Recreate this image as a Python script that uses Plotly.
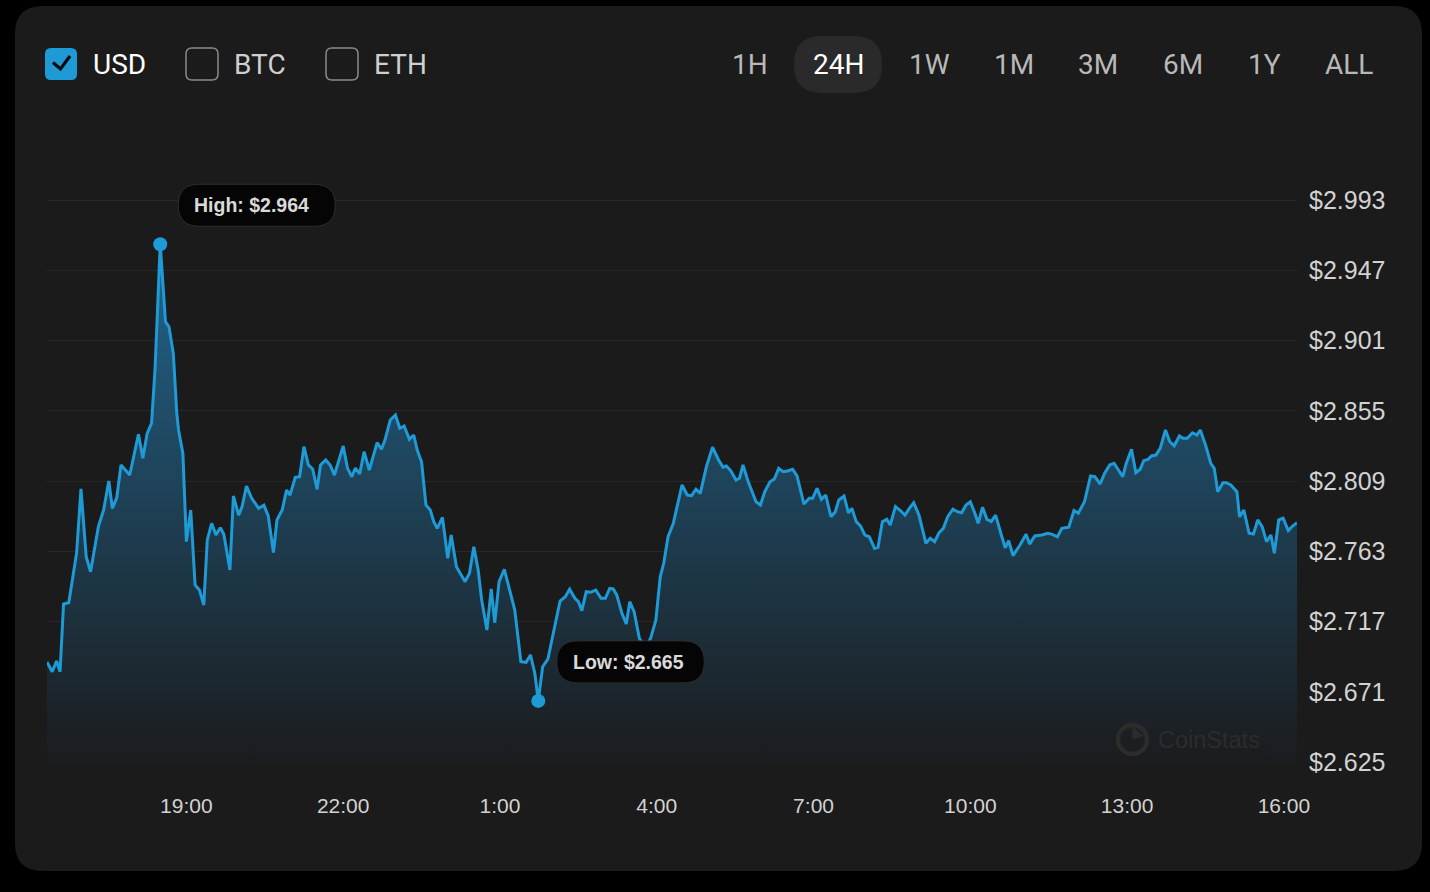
import pandas as pd
import plotly.graph_objects as go

# ---------------- data ----------------
session_open = "2024-05-20 16:20"
minutes_from_open = [
    0, 6, 11, 15, 19, 25, 34, 39, 45, 50,
    59, 65, 71, 75, 80, 85, 95, 99, 105, 110,
    115, 120, 124, 130, 136, 140, 145, 149, 151, 156,
    160, 165, 170, 175, 180, 184, 189, 194, 199, 203,
    210, 214, 220, 224, 229, 235, 243, 249, 254, 260,
    264, 270, 275, 279, 285, 290, 295, 300, 305, 310,
    314, 320, 325, 330, 335, 340, 345, 350, 354, 359,
    364, 370, 379, 384, 388, 394, 400, 405, 410, 416,
    421, 425, 430, 435, 440, 444, 448, 454, 460, 464,
    470, 480, 485, 490, 495, 499, 505, 510, 514, 519,
    525, 532, 537, 544, 550, 555, 560, 564, 569, 575,
    581, 589, 595, 600, 606, 610, 614, 619, 624, 630,
    636, 641, 646, 650, 654, 660, 665, 669, 674, 680,
    687, 693, 699, 704, 708, 713, 719, 729, 735, 740,
    745, 750, 757, 764, 771, 776, 780, 785, 791, 795,
    799, 805, 814, 819, 824, 830, 835, 840, 845, 850,
    856, 861, 869, 875, 879, 884, 889, 894, 900, 905,
    909, 915, 920, 924, 929, 934, 939, 944, 950, 954,
    959, 964, 968, 974, 979, 985, 990, 995, 1001, 1009,
    1014, 1019, 1024, 1029, 1034, 1040, 1045, 1050, 1055, 1060,
    1065, 1069, 1074, 1079, 1084, 1089, 1095, 1100, 1104, 1109,
    1117, 1124, 1128, 1134, 1142, 1149, 1154, 1160, 1165, 1173,
    1179, 1184, 1191, 1198, 1203, 1209, 1214, 1220, 1225, 1230,
    1235, 1239, 1245, 1250, 1255, 1259, 1264, 1268, 1273, 1278,
    1284, 1289, 1294, 1300, 1304, 1309, 1315, 1320, 1324, 1330,
    1336, 1340, 1344, 1350, 1354, 1359, 1366, 1369, 1374, 1380,
    1385, 1390, 1395, 1400, 1405, 1409, 1414, 1419, 1425, 1430,
    1435,
]
prices_usd = [
    2.6905, 2.6841, 2.6911, 2.6841, 2.7285, 2.7293, 2.7619, 2.8038, 2.7594, 2.7496,
    2.7791, 2.7900, 2.8090, 2.7911, 2.7979, 2.8195, 2.8129, 2.8228, 2.8396, 2.8239,
    2.8402, 2.8468, 2.8817, 2.9640, 2.9133, 2.9100, 2.8926, 2.8533, 2.8424, 2.8271,
    2.7693, 2.7900, 2.7409, 2.7376, 2.7278, 2.7704, 2.7813, 2.7736, 2.7784, 2.7741,
    2.7507, 2.7992, 2.7867, 2.7922, 2.8057, 2.7977, 2.7911, 2.7931, 2.7861, 2.7621,
    2.7835, 2.7900, 2.8031, 2.7998, 2.8114, 2.8118, 2.8315, 2.8195, 2.8169, 2.8036,
    2.8195, 2.8228, 2.8195, 2.8129, 2.8228, 2.8319, 2.8173, 2.8118, 2.8175, 2.8136,
    2.8282, 2.8162, 2.8341, 2.8298, 2.8358, 2.8489, 2.8522, 2.8435, 2.8450, 2.8363,
    2.8391, 2.8293, 2.8216, 2.7933, 2.7900, 2.7824, 2.7780, 2.7852, 2.7584, 2.7736,
    2.7529, 2.7431, 2.7486, 2.7660, 2.7507, 2.7311, 2.7114, 2.7383, 2.7162, 2.7431,
    2.7512, 2.7355, 2.7245, 2.6907, 2.6903, 2.6951, 2.6831, 2.6650, 2.6874, 2.6923,
    2.7093, 2.7304, 2.7332, 2.7381, 2.7322, 2.7300, 2.7241, 2.7365, 2.7361, 2.7376,
    2.7322, 2.7322, 2.7387, 2.7383, 2.7344, 2.7224, 2.7154, 2.7300, 2.7234, 2.7060,
    2.6997, 2.7060, 2.7180, 2.7463, 2.7551, 2.7725, 2.7813, 2.8064, 2.7998, 2.7994,
    2.8036, 2.8009, 2.8184, 2.8311, 2.8228, 2.8180, 2.8188, 2.8157, 2.8097, 2.8108,
    2.8195, 2.8085, 2.7954, 2.7933, 2.8020, 2.8085, 2.8103, 2.8173, 2.8151, 2.8156,
    2.8167, 2.8123, 2.7939, 2.7977, 2.7977, 2.8042, 2.7970, 2.7998, 2.7856, 2.7889,
    2.7966, 2.7992, 2.7882, 2.7911, 2.7824, 2.7795, 2.7736, 2.7725, 2.7649, 2.7656,
    2.7824, 2.7839, 2.7802, 2.7922, 2.7900, 2.7867, 2.7911, 2.7948, 2.7867, 2.7682,
    2.7715, 2.7693, 2.7751, 2.7780, 2.7856, 2.7905, 2.7889, 2.7882, 2.7933, 2.7954,
    2.7882, 2.7813, 2.7918, 2.7839, 2.7824, 2.7867, 2.7748, 2.7653, 2.7699, 2.7601,
    2.7671, 2.7741, 2.7677, 2.7730, 2.7736, 2.7748, 2.7741, 2.7725, 2.7780, 2.7787,
    2.7896, 2.7879, 2.7954, 2.8123, 2.8118, 2.8070, 2.8140, 2.8195, 2.8206, 2.8162,
    2.8118, 2.8206, 2.8298, 2.8144, 2.8167, 2.8223, 2.8232, 2.8254, 2.8260, 2.8304,
    2.8424, 2.8347, 2.8321, 2.8385, 2.8370, 2.8370, 2.8406, 2.8391, 2.8424, 2.8326,
    2.8206, 2.8173, 2.8020, 2.8079, 2.8079, 2.8064, 2.8020, 2.7856, 2.7900, 2.7748,
    2.7743, 2.7835, 2.7791, 2.7693, 2.7736, 2.7617, 2.7835, 2.7846, 2.7765, 2.7795,
    2.7817,
]
x_tick_times = [
    "2024-05-20 19:00", "2024-05-20 22:00", "2024-05-21 01:00", "2024-05-21 04:00",
    "2024-05-21 07:00", "2024-05-21 10:00", "2024-05-21 13:00", "2024-05-21 16:00",
]
x_tick_labels = ["19:00", "22:00", "1:00", "4:00", "7:00", "10:00", "13:00", "16:00"]
y_tick_values = [2.625, 2.671, 2.717, 2.763, 2.809, 2.855, 2.901, 2.947, 2.993]
y_tick_labels = ["$%.3f" % v for v in y_tick_values]
currency_options = ["USD", "BTC", "ETH"]
selected_currency = "USD"
range_options = ["1H", "24H", "1W", "1M", "3M", "6M", "1Y", "ALL"]
selected_range = "24H"

# ---------------- derived ----------------
times = pd.Timestamp(session_open) + pd.to_timedelta(minutes_from_open, unit="min")
time_str = [t.strftime("%Y-%m-%d %H:%M:%S") for t in times]
i_hi = max(range(len(prices_usd)), key=lambda i: prices_usd[i])
i_lo = min(range(len(prices_usd)), key=lambda i: prices_usd[i])

# ---------------- geometry / style ----------------
W, H = 1430, 892
L, R, T, B = 47, 1297, 130, 762
PX_PER_UNIT = 562 / (y_tick_values[-1] - y_tick_values[0])
y_top = y_tick_values[0] + (B - T) / PX_PER_UNIT

BLUE = "#1e9bd7"
CARD = "#1b1b1b"
GRID = "#282828"
TICK = "#d2d2d2"


def fx(px):
    return (px - L) / (R - L)


def fy(py):
    return (B - py) / (B - T)


def rrect(x0, y0, x1, y1, r):
    pts = [
        ("M", [(x0 + r, y0)]), ("L", [(x1 - r, y0)]), ("Q", [(x1, y0), (x1, y0 + r)]),
        ("L", [(x1, y1 - r)]), ("Q", [(x1, y1), (x1 - r, y1)]), ("L", [(x0 + r, y1)]),
        ("Q", [(x0, y1), (x0, y1 - r)]), ("L", [(x0, y0 + r)]), ("Q", [(x0, y0), (x0 + r, y0)]),
    ]
    s = ""
    for cmd, ps in pts:
        s += cmd + " " + " ".join("%.5f,%.5f" % (fx(a), fy(b)) for a, b in ps) + " "
    return s + "Z"


def pill_rel(x0, x1, y0, y1):
    r = (y1 - y0) / 2
    return ("M %g,%g L %g,%g Q %g,%g %g,%g Q %g,%g %g,%g L %g,%g Q %g,%g %g,%g Q %g,%g %g,%g Z" % (
        x0 + r, y0, x1 - r, y0, x1, y0, x1, y0 + r, x1, y1, x1 - r, y1,
        x0 + r, y1, x0, y1, x0, y0 + r, x0, y0, x0 + r, y0))


fig = go.Figure()
fig.add_trace(go.Scatter(
    x=times, y=prices_usd, mode="lines",
    line=dict(color=BLUE, width=3, shape="linear"),
    fill="tozeroy",
    fillgradient=dict(type="vertical",
                      colorscale=[[0, "rgb(27,28,30)"], [1, "rgb(33,100,140)"]],
                      start=y_tick_values[0], stop=prices_usd[i_hi]),
    hoverinfo="skip", showlegend=False,
))
fig.add_trace(go.Scatter(
    x=[times[i_hi], times[i_lo]], y=[prices_usd[i_hi], prices_usd[i_lo]],
    mode="markers", marker=dict(color=BLUE, size=14),
    hoverinfo="skip", showlegend=False,
))

shapes = []
annotations = []

# card
shapes.append(dict(type="path", xref="paper", yref="paper", path=rrect(15, 6, 1422, 871, 28),
                   fillcolor=CARD, line=dict(width=0), layer="below"))

# currency checkboxes
box_x = [45, 186, 326]
text_x = [91, 232, 372]
for name, bx, tx in zip(currency_options, box_x, text_x):
    sel = name == selected_currency
    shapes.append(dict(type="path", xref="paper", yref="paper", path=rrect(bx, 48, bx + 32, 80, 6),
                       fillcolor=BLUE if sel else "rgba(0,0,0,0)",
                       line=dict(width=0 if sel else 1.5, color="#8a8a8a")))
    if sel:
        ck = "M %.5f,%.5f L %.5f,%.5f L %.5f,%.5f" % (fx(bx + 8), fy(62.5), fx(bx + 15.5), fy(69),
                                                     fx(bx + 25), fy(56))
        shapes.append(dict(type="path", xref="paper", yref="paper", path=ck,
                           fillcolor="rgba(0,0,0,0)", line=dict(color="#0a0a0a", width=3.2)))
    annotations.append(dict(xref="paper", yref="paper", x=fx(tx), y=fy(64), text=name,
                            xanchor="left", yanchor="middle", showarrow=False,
                            font=dict(family="Roboto", size=28,
                                      color="#ffffff" if sel else "#cfcfcf")))

# range buttons
range_cx = [750, 838, 929, 1014, 1098, 1183, 1264, 1349]
for name, cx in zip(range_options, range_cx):
    sel = name == selected_range
    if sel:
        shapes.append(dict(type="path", xref="paper", yref="paper",
                           path=rrect(cx - 44, 36, cx + 44, 93, 28),
                           fillcolor="#2a2a2a", line=dict(width=0)))
    annotations.append(dict(xref="paper", yref="paper", x=fx(cx), y=fy(64), text=name,
                            xanchor="center", yanchor="middle", showarrow=False,
                            font=dict(family="Roboto", size=28,
                                      color="#ffffff" if sel else "#b8b8b8")))

# high / low labels
for idx, label, x0, x1 in [(i_hi, "High", 18, 175), (i_lo, "Low", 18.5, 166)]:
    shapes.append(dict(type="path", xref="x", yref="y", xsizemode="pixel", ysizemode="pixel",
                       xanchor=time_str[idx], yanchor=prices_usd[idx],
                       path=pill_rel(x0, x1, 18, 60),
                       fillcolor="#050505", line=dict(color="#2e2e2e", width=1)))
    annotations.append(dict(xref="x", yref="y", x=time_str[idx], y=prices_usd[idx],
                            xshift=x0 + 14, yshift=39, showarrow=False,
                            text="%s: $%.3f" % (label, prices_usd[idx]),
                            xanchor="left", yanchor="middle",
                            font=dict(family="Liberation Sans", size=19.5, color="#dadada",
                                      weight="bold")))

# watermark
shapes.append(dict(type="circle", xref="paper", yref="paper",
                   x0=fx(1118), x1=fx(1147), y0=fy(754), y1=fy(725),
                   fillcolor="rgba(0,0,0,0)", line=dict(color="#2c2c2c", width=4.5)))
shapes.append(dict(type="path", xref="paper", yref="paper",
                   path="M %.5f,%.5f L %.5f,%.5f L %.5f,%.5f Z" % (fx(1132.5), fy(739.5), fx(1132.5), fy(727),
                                                                  fx(1144), fy(736)),
                   fillcolor="#2c2c2c", line=dict(width=0)))
annotations.append(dict(xref="paper", yref="paper", x=fx(1156), y=fy(740), text="CoinStats",
                        xanchor="left", yanchor="middle", showarrow=False,
                        font=dict(family="Liberation Sans", size=23.5, color="#2c2c2c")))

fig.update_layout(
    width=W, height=H,
    margin=dict(l=L, r=W - R, t=T, b=H - B, pad=0),
    paper_bgcolor="#000000", plot_bgcolor="rgba(0,0,0,0)",
    shapes=shapes, annotations=annotations,
    showlegend=False,
    xaxis=dict(type="date", range=[time_str[0], time_str[-1]],
               tickvals=x_tick_times, ticktext=x_tick_labels,
               tickfont=dict(family="Liberation Sans", size=21, color=TICK),
               ticks="outside", ticklen=25, tickcolor="rgba(0,0,0,0)",
               showgrid=False, zeroline=False, showline=False, fixedrange=True),
    yaxis=dict(range=[y_tick_values[0], y_top], side="right",
               tickvals=y_tick_values, ticktext=y_tick_labels,
               tickfont=dict(family="Liberation Sans", size=25, color=TICK),
               ticks="outside", ticklen=6, tickcolor="rgba(0,0,0,0)",
               showgrid=True, gridcolor=GRID, gridwidth=1,
               zeroline=False, showline=False, fixedrange=True),
)

fig.write_html(
    "out.html",
    config={"displayModeBar": False},
    post_script="document.body.style.margin='0';document.body.style.background='#000';"
                "document.body.style.overflow='hidden';",
)
